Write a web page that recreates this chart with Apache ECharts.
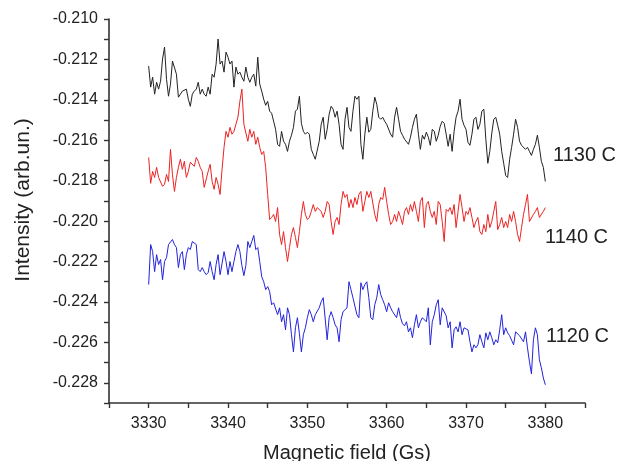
<!DOCTYPE html>
<html>
<head>
<meta charset="utf-8">
<script src="https://cdn.jsdelivr.net/npm/echarts@6/dist/echarts.min.js"></script>
<style>
html,body{margin:0;padding:0;background:#fff;}
#chart{width:617px;height:461px;}
</style>
</head>
<body>
<div id="chart"></div>
<script>
// Magnetic field (Gs) sample positions
var fields = [
3330,3330.25,3330.5,3330.75,3331,3331.25,3331.5,3331.75,3332,3332.25,3332.5,3332.75,3333,3333.25,3333.5,3333.75,3334,3334.25,3334.5,3334.75,
3335,3335.25,3335.5,3335.75,3336,3336.25,3336.5,3336.75,3337,3337.25,3337.5,3337.75,3338,3338.25,3338.5,3338.75,3339,3339.25,3339.5,3339.75,
3340,3340.25,3340.5,3340.75,3341,3341.25,3341.5,3341.75,3342,3342.25,3342.5,3342.75,3343,3343.25,3343.5,3343.75,3344,3344.25,3344.5,3344.75,
3345,3345.25,3345.5,3345.75,3346,3346.25,3346.5,3346.75,3347,3347.25,3347.5,3347.75,3348,3348.25,3348.5,3348.75,3349,3349.25,3349.5,3349.75,
3350,3350.25,3350.5,3350.75,3351,3351.25,3351.5,3351.75,3352,3352.25,3352.5,3352.75,3353,3353.25,3353.5,3353.75,3354,3354.25,3354.5,3354.75,
3355,3355.25,3355.5,3355.75,3356,3356.25,3356.5,3356.75,3357,3357.25,3357.5,3357.75,3358,3358.25,3358.5,3358.75,3359,3359.25,3359.5,3359.75,
3360,3360.25,3360.5,3360.75,3361,3361.25,3361.5,3361.75,3362,3362.25,3362.5,3362.75,3363,3363.25,3363.5,3363.75,3364,3364.25,3364.5,3364.75,
3365,3365.25,3365.5,3365.75,3366,3366.25,3366.5,3366.75,3367,3367.25,3367.5,3367.75,3368,3368.25,3368.5,3368.75,3369,3369.25,3369.5,3369.75,
3370,3370.25,3370.5,3370.75,3371,3371.25,3371.5,3371.75,3372,3372.25,3372.5,3372.75,3373,3373.25,3373.5,3373.75,3374,3374.25,3374.5,3374.75,
3375,3375.25,3375.5,3375.75,3376,3376.25,3376.5,3376.75,3377,3377.25,3377.5,3377.75,3378,3378.25,3378.5,3378.75,3379,3379.25,3379.5,3379.75,
3380];

// 1130 C (black)
var s1130 = [
-0.21233,-0.21337,-0.21288,-0.21372,-0.21313,-0.21347,-0.21308,-0.21198,-0.21139,-0.21298,
-0.21382,-0.21322,-0.21208,-0.21213,-0.21273,-0.21387,-0.21372,-0.21357,-0.21362,-0.21347,
-0.21397,-0.21432,-0.21372,-0.21357,-0.21347,-0.21313,-0.21372,-0.21347,-0.21372,-0.21382,
-0.21337,-0.21372,-0.21273,-0.21288,-0.21223,-0.21099,-0.21223,-0.21208,-0.21263,-0.21164,
-0.21189,-0.21223,-0.21208,-0.21337,-0.21238,-0.21273,-0.21263,-0.21288,-0.21308,-0.21238,
-0.21288,-0.21313,-0.21288,-0.21273,-0.21332,-0.21189,-0.21322,-0.21357,-0.21397,-0.21427,
-0.21407,-0.21456,-0.21466,-0.21506,-0.21546,-0.21620,-0.21630,-0.21556,-0.21605,-0.21620,
-0.21655,-0.21605,-0.21575,-0.21536,-0.21456,-0.21446,-0.21382,-0.21516,-0.21556,-0.21570,
-0.21560,-0.21570,-0.21645,-0.21670,-0.21694,-0.21685,-0.21605,-0.21521,-0.21486,-0.21595,
-0.21546,-0.21471,-0.21432,-0.21446,-0.21486,-0.21456,-0.21521,-0.21620,-0.21645,-0.21496,
-0.21437,-0.21536,-0.21556,-0.21456,-0.21382,-0.21397,-0.21382,-0.21620,-0.21694,-0.21570,
-0.21486,-0.21560,-0.21546,-0.21456,-0.21387,-0.21422,-0.21486,-0.21496,-0.21486,-0.21506,
-0.21521,-0.21521,-0.21570,-0.21585,-0.21486,-0.21437,-0.21496,-0.21556,-0.21575,-0.21595,
-0.21595,-0.21620,-0.21585,-0.21536,-0.21496,-0.21471,-0.21570,-0.21645,-0.21575,-0.21595,
-0.21560,-0.21585,-0.21625,-0.21546,-0.21556,-0.21605,-0.21575,-0.21531,-0.21506,-0.21516,
-0.21570,-0.21630,-0.21570,-0.21655,-0.21556,-0.21486,-0.21456,-0.21397,-0.21496,-0.21526,
-0.21546,-0.21610,-0.21625,-0.21570,-0.21496,-0.21486,-0.21546,-0.21521,-0.21456,-0.21446,
-0.21595,-0.21714,-0.21655,-0.21565,-0.21496,-0.21486,-0.21526,-0.21570,-0.21655,-0.21714,
-0.21774,-0.21784,-0.21694,-0.21635,-0.21570,-0.21496,-0.21536,-0.21605,-0.21625,-0.21620,
-0.21645,-0.21635,-0.21655,-0.21675,-0.21645,-0.21620,-0.21575,-0.21635,-0.21704,-0.21734,
-0.21804];

// 1140 C (red)
var s1140 = [
-0.21685,-0.21813,-0.21754,-0.21784,-0.21734,-0.21784,-0.21779,-0.21828,-0.21818,-0.21769,
-0.21804,-0.21645,-0.21769,-0.21853,-0.21784,-0.21734,-0.21694,-0.21744,-0.21704,-0.21784,
-0.21754,-0.21709,-0.21704,-0.21729,-0.21685,-0.21704,-0.21734,-0.21754,-0.21833,-0.21833,
-0.21754,-0.21719,-0.21804,-0.21843,-0.21784,-0.21818,-0.21868,-0.21744,-0.21635,-0.21556,
-0.21585,-0.21536,-0.21570,-0.21556,-0.21521,-0.21486,-0.21407,-0.21347,-0.21521,-0.21521,
-0.21605,-0.21546,-0.21585,-0.21556,-0.21620,-0.21585,-0.21635,-0.21670,-0.21655,-0.21734,
-0.21868,-0.21992,-0.21982,-0.21967,-0.22002,-0.21933,-0.22066,-0.22116,-0.22052,-0.22131,
-0.22200,-0.22131,-0.22066,-0.22032,-0.22081,-0.22131,-0.22052,-0.21967,-0.21903,-0.21967,
-0.21992,-0.21982,-0.21952,-0.21918,-0.21952,-0.21933,-0.21942,-0.21952,-0.21982,-0.21952,
-0.21903,-0.21918,-0.22002,-0.22066,-0.22002,-0.21982,-0.22017,-0.21918,-0.21853,-0.21883,
-0.21868,-0.21933,-0.21893,-0.21933,-0.21883,-0.21918,-0.21868,-0.21853,-0.21952,-0.21903,
-0.21853,-0.21883,-0.21853,-0.21853,-0.21967,-0.22002,-0.21918,-0.21883,-0.21893,-0.21833,
-0.21903,-0.21967,-0.22017,-0.22002,-0.21967,-0.22002,-0.21952,-0.21982,-0.22017,-0.21952,
-0.21933,-0.21967,-0.21918,-0.21952,-0.21903,-0.21952,-0.22002,-0.21903,-0.21883,-0.22032,
-0.21918,-0.21903,-0.21952,-0.21982,-0.21952,-0.22017,-0.21903,-0.21918,-0.22002,-0.22101,
-0.21942,-0.21952,-0.21933,-0.21967,-0.21918,-0.22032,-0.21952,-0.21868,-0.21933,-0.22002,
-0.21952,-0.21967,-0.21933,-0.21982,-0.22032,-0.22002,-0.21982,-0.22052,-0.22066,-0.22017,
-0.22052,-0.21967,-0.22032,-0.22002,-0.21952,-0.21903,-0.22042,-0.22017,-0.21982,-0.22032,
-0.22002,-0.22032,-0.21967,-0.22002,-0.21952,-0.22002,-0.22066,-0.22101,-0.22032,-0.21967,
-0.21918,-0.21868,-0.22002,-0.22002,-0.21967,-0.21952,-0.21933,-0.21982,-0.21982,-0.21952,
-0.21933];

// 1120 C (blue)
var s1120 = [
-0.22314,-0.22116,-0.22151,-0.22250,-0.22166,-0.22215,-0.22190,-0.22290,-0.22200,-0.22181,
-0.22116,-0.22111,-0.22091,-0.22116,-0.22131,-0.22230,-0.22166,-0.22151,-0.22240,-0.22166,
-0.22131,-0.22141,-0.22101,-0.22101,-0.22116,-0.22240,-0.22250,-0.22230,-0.22250,-0.22265,
-0.22255,-0.22200,-0.22250,-0.22290,-0.22215,-0.22166,-0.22265,-0.22210,-0.22151,-0.22200,
-0.22265,-0.22200,-0.22250,-0.22200,-0.22151,-0.22116,-0.22151,-0.22220,-0.22270,-0.22220,
-0.22101,-0.22131,-0.22101,-0.22071,-0.22141,-0.22131,-0.22200,-0.22275,-0.22300,-0.22339,
-0.22324,-0.22349,-0.22414,-0.22404,-0.22399,-0.22463,-0.22429,-0.22498,-0.22463,-0.22538,
-0.22429,-0.22463,-0.22562,-0.22647,-0.22528,-0.22478,-0.22557,-0.22647,-0.22562,-0.22528,
-0.22478,-0.22438,-0.22463,-0.22498,-0.22463,-0.22463,-0.22429,-0.22399,-0.22379,-0.22374,
-0.22587,-0.22478,-0.22448,-0.22478,-0.22513,-0.22528,-0.22597,-0.22488,-0.22448,-0.22448,
-0.22429,-0.22300,-0.22339,-0.22379,-0.22379,-0.22463,-0.22478,-0.22305,-0.22339,-0.22314,
-0.22300,-0.22379,-0.22478,-0.22488,-0.22414,-0.22379,-0.22314,-0.22364,-0.22389,-0.22414,
-0.22448,-0.22404,-0.22429,-0.22448,-0.22448,-0.22478,-0.22429,-0.22478,-0.22508,-0.22518,
-0.22498,-0.22548,-0.22528,-0.22577,-0.22513,-0.22463,-0.22528,-0.22498,-0.22478,-0.22478,
-0.22498,-0.22429,-0.22612,-0.22498,-0.22463,-0.22414,-0.22389,-0.22513,-0.22429,-0.22429,
-0.22468,-0.22528,-0.22498,-0.22627,-0.22538,-0.22523,-0.22548,-0.22498,-0.22562,-0.22528,
-0.22528,-0.22538,-0.22597,-0.22647,-0.22612,-0.22627,-0.22612,-0.22562,-0.22597,-0.22627,
-0.22553,-0.22587,-0.22548,-0.22577,-0.22612,-0.22587,-0.22602,-0.22538,-0.22463,-0.22562,
-0.22528,-0.22553,-0.22567,-0.22562,-0.22612,-0.22548,-0.22557,-0.22567,-0.22562,-0.22597,
-0.22548,-0.22627,-0.22696,-0.22756,-0.22587,-0.22528,-0.22562,-0.22686,-0.22726,-0.22776,
-0.22810];

var seriesNames = ['1130 C', '1140 C', '1120 C'];
var xLabelValues = [3330, 3340, 3350, 3360, 3370, 3380];
var xAxisTitle = 'Magnetic field (Gs)';
var yAxisTitle = 'Intensity (arb.un.)';

function pairs(arr) { return fields.map(function (f, i) { return [f, arr[i]]; }); }

var FONT = 'Liberation Sans, Arial, Helvetica, sans-serif';
var chart = echarts.init(document.getElementById('chart'), null, { renderer: 'canvas' });

chart.setOption({
  animation: false,
  backgroundColor: '#ffffff',
  grid: { left: 109, right: 32, top: 19, bottom: 58, containLabel: false, outerBoundsMode: 'none' },
  xAxis: {
    type: 'value',
    min: 3325, max: 3385, interval: 5,
    name: xAxisTitle, nameLocation: 'middle', nameGap: 40,
    nameTextStyle: { fontFamily: FONT, fontSize: 20, color: '#222' },
    axisLine: { show: true, onZero: false, lineStyle: { color: '#333', width: 1.6 } },
    axisTick: { show: true, length: 5, lineStyle: { color: '#333', width: 1.4 } },
    axisLabel: {
      fontFamily: FONT, fontSize: 16, color: '#222', margin: 13,
      formatter: function (v) { return xLabelValues.indexOf(Math.round(v)) >= 0 ? String(Math.round(v)) : ''; }
    },
    splitLine: { show: false }
  },
  yAxis: {
    type: 'value',
    min: -0.229, max: -0.210, interval: 0.001,
    name: yAxisTitle, nameLocation: 'middle', nameGap: 75, nameRotate: 90,
    nameTextStyle: { fontFamily: FONT, fontSize: 21, color: '#222', padding: [0, 0, 0, 22] },
    axisLine: { show: true, onZero: false, lineStyle: { color: '#333', width: 1.6 } },
    axisTick: { show: true, length: 5, lineStyle: { color: '#333', width: 1.4 } },
    axisLabel: {
      fontFamily: FONT, fontSize: 16, color: '#222', margin: 11,
      formatter: function (v) {
        var k = Math.round(-v * 1000);
        return (k % 2 === 0) ? (-k / 1000).toFixed(3) : '';
      }
    },
    splitLine: { show: false }
  },
  series: [
    { name: seriesNames[0], type: 'line', data: pairs(s1130), showSymbol: false, symbol: 'none',
      lineStyle: { color: '#222222', width: 1 }, itemStyle: { color: '#222222' } },
    { name: seriesNames[1], type: 'line', data: pairs(s1140), showSymbol: false, symbol: 'none',
      lineStyle: { color: '#ee2222', width: 1 }, itemStyle: { color: '#ee2222' } },
    { name: seriesNames[2], type: 'line', data: pairs(s1120), showSymbol: false, symbol: 'none',
      lineStyle: { color: '#2222dd', width: 1 }, itemStyle: { color: '#2222dd' } }
  ],
  graphic: [
    { type: 'text', left: 553, top: 145, style: { text: seriesNames[0], font: '20px ' + FONT, fill: '#222' } },
    { type: 'text', left: 545, top: 227, style: { text: seriesNames[1], font: '20px ' + FONT, fill: '#222' } },
    { type: 'text', left: 546, top: 326, style: { text: seriesNames[2], font: '20px ' + FONT, fill: '#222' } }
  ]
});
</script>
</body>
</html>
